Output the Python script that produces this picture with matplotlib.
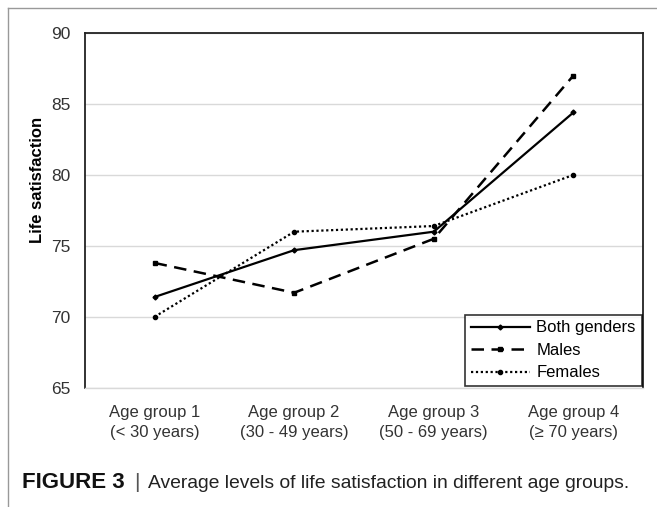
# Life satisfaction by age group, three series

import matplotlib.pyplot as plt
from matplotlib.lines import Line2D

plt.rcParams["font.family"] = ["Liberation Sans", "DejaVu Sans"]

groups = [
    "Age group 1\n(< 30 years)",
    "Age group 2\n(30 - 49 years)",
    "Age group 3\n(50 - 69 years)",
    "Age group 4\n(\u2265 70 years)",
]
both = [71.4, 74.7, 76.0, 84.4]
males = [73.8, 71.7, 75.5, 87.0]
females = [70.0, 76.0, 76.4, 80.0]
y_ticks = [65, 70, 75, 80, 85, 90]

fig = plt.figure(figsize=(6.57, 5.07), dpi=100)
ax = fig.add_axes([0.129, 0.235, 0.850, 0.700])

x = range(len(groups))
ax.plot(x, both, color="black", linestyle="-", linewidth=1.6,
        marker="D", markersize=2.5, label="Both genders")
ax.plot(x, males, color="black", linestyle=(0, (5, 3)), linewidth=1.8,
        marker="s", markersize=3, label="Males")
ax.plot(x, females, color="black", linestyle=(0, (1, 1.2)), linewidth=1.6,
        marker="o", markersize=3, label="Females")

ax.set_xlim(-0.5, 3.5)
ax.set_ylim(65, 90)
ax.set_yticks(y_ticks)
ax.set_xticks(list(x))
ax.set_xticklabels(groups, fontsize=12, color="#333333", linespacing=1.45)
ax.tick_params(axis="y", labelsize=12.5, length=0, pad=10, labelcolor="#333333")
ax.tick_params(axis="x", length=0, pad=12)
ax.grid(True, axis="y", color="#d9d9d9", linewidth=1)
ax.set_axisbelow(True)
ax.set_ylabel("Life satisfaction", fontsize=12, fontweight="bold")
ax.yaxis.set_label_coords(-0.072, 0.585)

for side in ["left", "top", "right"]:
    ax.spines[side].set_color("#222222")
    ax.spines[side].set_linewidth(1.3)
ax.spines["bottom"].set_color("#d9d9d9")
ax.spines["bottom"].set_linewidth(1)

leg = ax.legend(loc="lower right", fontsize=12, frameon=True, fancybox=False,
                edgecolor="black", borderaxespad=0.1, handlelength=3.5,
                labelspacing=0.45, borderpad=0.35, handletextpad=0.4)
leg.get_frame().set_linewidth(1.2)

# outer panel border (cropped at right and bottom)
fig.add_artist(Line2D([8 / 657, 8 / 657], [0, 1 - 8 / 507], transform=fig.transFigure,
                      color="#999999", linewidth=1))
fig.add_artist(Line2D([8 / 657, 1], [1 - 8 / 507, 1 - 8 / 507], transform=fig.transFigure,
                      color="#999999", linewidth=1))

# caption
cap_y = 1 - 483 / 507
t1 = fig.text(22 / 657, cap_y, "FIGURE 3", fontsize=16, fontweight="bold",
              va="center", ha="left", color="#111111")
fig.canvas.draw()
bb = t1.get_window_extent()
t2 = fig.text((bb.x1 + 9) / 657, cap_y, "|", fontsize=15, va="center", ha="left",
              color="#555555")
bb2 = t2.get_window_extent()
fig.text((bb2.x1 + 9) / 657, cap_y,
         "Average levels of life satisfaction in different age groups.",
         fontsize=13.9, va="center", ha="left", color="#222222")

fig.savefig("out.png", dpi=100)
